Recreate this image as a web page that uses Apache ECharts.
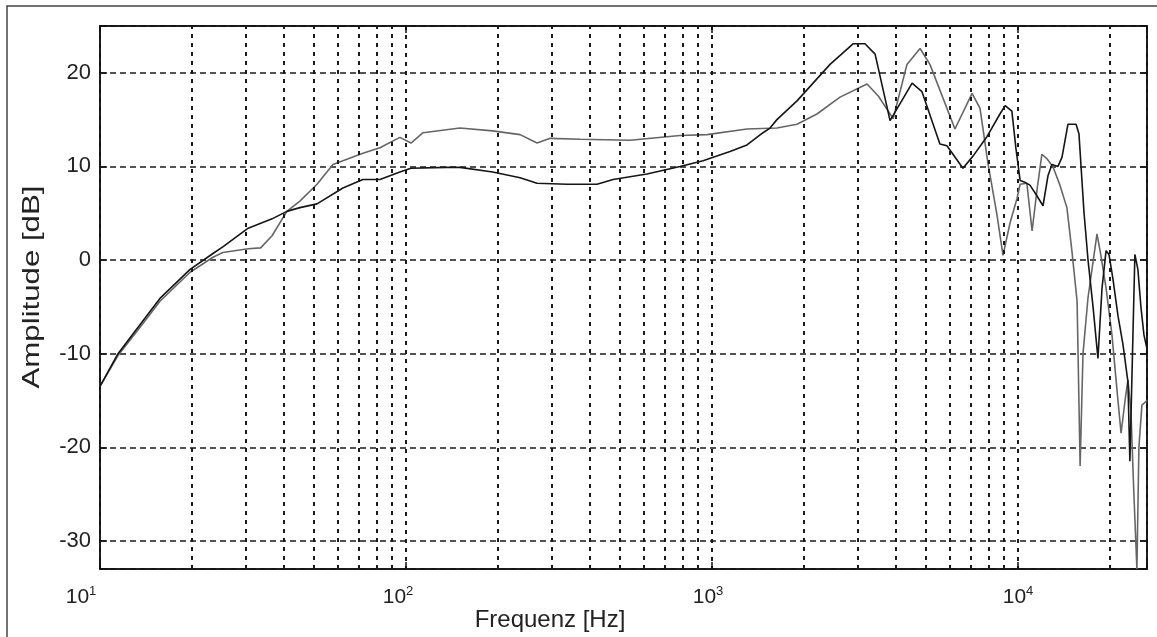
<!DOCTYPE html>
<html><head><meta charset="utf-8">
<script src="https://cdn.jsdelivr.net/npm/echarts@6/dist/echarts.min.js"></script>
<style>html,body{margin:0;padding:0;background:#fff}#c{width:1157px;height:637px}</style>
</head><body><div id="c"></div>
<script>
// ---- data ----
const freqBlack = [10,11.45,13.8,15.7,19.7,23.4,25.2,30.5,36.5,40.8,45,51.2,62.2,72.3,82.2,95.5,103.8,136,150,192,236,268,336,421,475,613,786,935,1145,1301,1468,1548,1630,1896,2431,2890,3162,3412,3819,4508,4853,5556,5859,6607,7128,7925,8730,9078,9550,9840,10160,10540,10940,11460,12070,12530,12910,13510,13930,14560,15480,15820,16440,16940,17590,18250,18820,19400,19830,20430,21230,22030,22870,23210,23750,24100,24650,25220,25800,26410];
const ampBlack  = [-13.5,-10,-6.5,-4.1,-1.0,0.7,1.4,3.4,4.4,5.2,5.6,6.0,7.7,8.6,8.6,9.4,9.8,9.9,9.9,9.4,8.8,8.2,8.1,8.1,8.6,9.2,10.0,10.6,11.6,12.3,13.6,14.1,15.0,17.0,20.9,23.1,23.1,22.0,14.9,18.9,18.0,12.4,12.2,9.8,11.1,13.2,15.6,16.5,15.9,12,8.5,8.3,8.0,7.0,5.8,9,10.2,10.0,11,14.5,14.5,13.5,5,0,-5,-10.5,-3,1.0,0.6,-2,-6,-9,-13,-21.5,-8,0.6,-1,-5,-8,-9.5];
const freqGray  = [10,11.45,13.8,15.7,19.7,23.4,25.2,30.5,33.5,36.5,40.8,45,51.2,57.7,72.3,82.2,95.5,103.8,113.7,150,192,236,268,296,371,540,786,963,1301,1630,1896,2203,2620,3212,3500,3908,4337,4786,5155,6223,7079,7516,7980,8531,8933,9424,9931,10160,10690,11120,11540,11970,12450,13000,13710,14450,15000,15600,15960,16310,16940,18120,18660,19400,20280,21080,21720,22380,22870,23380,23920,24470,24840,25410,26410];
const ampGray   = [-13.5,-10.2,-6.8,-4.4,-1.3,0.3,0.8,1.2,1.3,2.6,5.2,6.3,8.1,10.2,11.4,12.0,13.1,12.5,13.6,14.1,13.8,13.4,12.5,13.0,12.9,12.8,13.3,13.4,14.0,14.1,14.5,15.6,17.4,18.8,17.5,15.1,20.9,22.6,20.9,14.0,17.8,16.2,10.3,4.9,0.5,4,6.6,8.1,8.2,3.1,7.5,11.3,10.8,10.0,8,5.6,1.0,-4.4,-22,-10,-4,2.8,0.5,-3,-8,-14,-18.5,-15,-12.8,-16,-25,-33,-20,-15.5,-15];
const minorGridFreqs = [20,30,40,50,60,70,80,90,200,300,400,500,600,700,800,900,2000,3000,4000,5000,6000,7000,8000,9000,20000];
const xMin = 10, xMax = 26400;
const yMin = -33, yMax = 25;
const xTitle = 'Frequenz [Hz]';
const yTitle = 'Amplitude [dB]';

const FONT = '"Liberation Sans", Arial, Helvetica, sans-serif';
const labelPad = {1: 38, 2: 16, 3: 8, 4: 0};
const rich = {};
for (const e of [1,2,3,4]) {
  rich['b' + e] = {fontSize: 21, lineHeight: 24, fontFamily: FONT, color: '#222'};
  rich['s' + e] = {fontSize: 13, lineHeight: 14, verticalAlign: 'top', fontFamily: FONT, color: '#222', padding: [0, labelPad[e], 0, 0]};
}
const gridColor = '#1a1a1a';
const chart = echarts.init(document.getElementById('c'), null, {renderer: 'canvas'});
chart.setOption({
  animation: false,
  backgroundColor: '#fff',
  grid: {left: 100, right: 10, top: 26, bottom: 68, show: true, borderColor: '#111', borderWidth: 1.5, backgroundColor: 'transparent'},
  xAxis: [{
    type: 'log', logBase: 10, min: xMin, max: xMax,
    axisLine: {show: true, onZero: false, lineStyle: {color: '#111', width: 1.5}},
    axisTick: {show: true, inside: true, length: 7, lineStyle: {color: '#111', width: 1.5}},
    axisLabel: {
      margin: 16, rich: rich,
      formatter: function (v) {
        const e = Math.round(Math.log10(v));
        if (Math.abs(Math.pow(10, e) - v) > 1e-6 * v || e < 1 || e > 4) return '';
        return '{b' + e + '|10}{s' + e + '|' + e + '}';
      }
    },
    splitLine: {show: true, lineStyle: {color: gridColor, type: [4, 5], width: 2}}
  }, {
    type: 'log', logBase: 10, min: xMin, max: xMax, position: 'top',
    axisLine: {show: true, onZero: false, lineStyle: {color: '#111', width: 1.5}},
    axisTick: {show: true, inside: true, length: 7, lineStyle: {color: '#111', width: 1.5}},
    axisLabel: {show: false}, splitLine: {show: false}
  }],
  yAxis: [{
    type: 'value', min: yMin, max: yMax, splitNumber: 6,
    axisLine: {show: true, onZero: false, lineStyle: {color: '#111', width: 1.5}},
    axisTick: {show: true, inside: true, length: 7, lineStyle: {color: '#111', width: 1.5}},
    axisLabel: {
      margin: 9, fontSize: 22, fontFamily: FONT, color: '#222',
      formatter: function (v) { return (Math.round(v) % 10 === 0) ? String(v) : ''; }
    },
    splitLine: {show: true, lineStyle: {color: gridColor, type: [6, 4], width: 1.5}}
  }, {
    type: 'value', min: yMin, max: yMax, splitNumber: 6, position: 'right',
    axisLine: {show: true, onZero: false, lineStyle: {color: '#111', width: 1.5}},
    axisTick: {show: true, inside: true, length: 7, lineStyle: {color: '#111', width: 1.5}},
    axisLabel: {show: false}, splitLine: {show: false}
  }],
  series: [{
    type: 'line', name: 'grid', data: [], z: 1, silent: true,
    markLine: {
      silent: true, symbol: ['none', 'none'], animation: false,
      label: {show: false},
      lineStyle: {color: gridColor, type: [4, 5], width: 2},
      data: minorGridFreqs.map(f => ({xAxis: f}))
    }
  }, {
    type: 'line', name: 'gray', z: 3, symbol: 'none', showSymbol: false,
    lineStyle: {color: '#666', width: 1.6},
    data: freqGray.map((f, i) => [f, ampGray[i]])
  }, {
    type: 'line', name: 'black', z: 4, symbol: 'none', showSymbol: false,
    lineStyle: {color: '#151515', width: 1.6},
    data: freqBlack.map((f, i) => [f, ampBlack[i]])
  }],
  graphic: [
    {type: 'rect', silent: true, shape: {x: 7, y: 6, width: 1200, height: 700}, style: {fill: 'none', stroke: '#444', lineWidth: 1.5}},
    {type: 'text', silent: true, x: 32, y: 287, rotation: Math.PI / 2, scaleX: 1.3,
     style: {text: yTitle, font: '24px ' + FONT, fill: '#222', align: 'center', verticalAlign: 'middle'}},
    {type: 'text', silent: true, x: 550, y: 620,
     style: {text: xTitle, font: '24px ' + FONT, fill: '#222', align: 'center', verticalAlign: 'middle'}}
  ]
});
</script>
</body></html>
